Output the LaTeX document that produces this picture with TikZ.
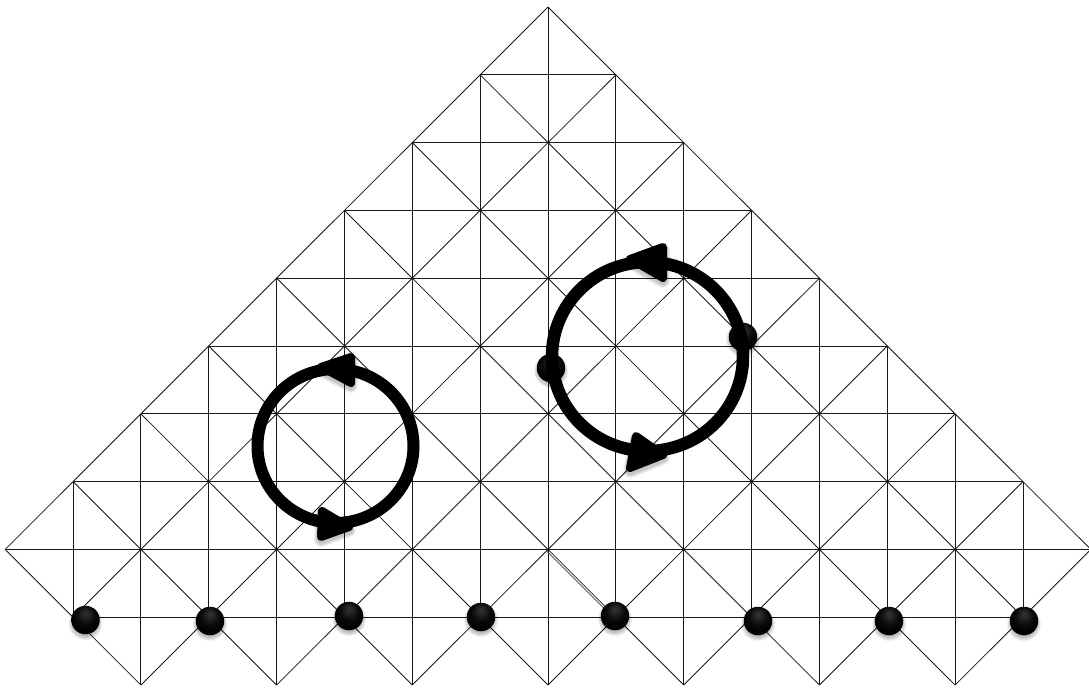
\documentclass[tikz,border=0pt]{standalone}
\usetikzlibrary{calc}
\pgfdeclareradialshading{ballshade}{\pgfpoint{0bp}{13bp}}{color(0bp)=(black!80!white);color(7bp)=(black!86!white);color(16bp)=(black!96!white);color(26bp)=(black);color(50bp)=(black)}
\tikzset{
  lattice/.style={draw=black!90,line width=0.85pt},
  ballnode/.style={circle,minimum size=28.5pt,inner sep=0pt,shade,shading=ballshade},
  ring/.style={draw=black,line width=#1},
  arrowhead/.style={fill=black,draw=black,line width=8pt,line join=round},
  softshadow/.style={fill=black,draw=black,opacity=0.06,line join=round}
}
\begin{document}
\begin{tikzpicture}[x=1pt,y=-1pt]
\useasboundingbox (0,0) rectangle (1089,688);
\fill[white] (0,0) rectangle (1089,688);
\clip (0,0) rectangle (1089,688);
% lattice coordinates
\foreach \n in {0,...,10}{\foreach \m in {-8,...,8}{
  \coordinate (v\m-\n) at ({548+67.85*\m},{7+67.8*\n});
}}
% diagonals
\foreach \n in {0,...,9}{\foreach \m in {-8,...,8}{
  \pgfmathtruncatemacro\mplus{\m+1}
  \pgfmathtruncatemacro\mminus{\m-1}
  \pgfmathtruncatemacro\nnext{\n+1}
  \pgfmathtruncatemacro\parok{mod(abs(\m+\n),2)==0 ? 1 : 0}
  \pgfmathtruncatemacro\hereok{abs(\m)<=min(\n,16-\n) ? \parok : 0}
  \pgfmathtruncatemacro\rightok{abs(\mplus)<=min(\nnext,16-\nnext) ? \hereok : 0}
  \pgfmathtruncatemacro\leftok{abs(\mminus)<=min(\nnext,16-\nnext) ? \hereok : 0}
  \ifnum\rightok=1 \draw[lattice] (v\m-\n) -- (v\mplus-\nnext);\fi
  \ifnum\leftok=1 \draw[lattice] (v\m-\n) -- (v\mminus-\nnext);\fi
}}
% horizontals
\foreach \n in {1,...,9}{
  \pgfmathtruncatemacro\limn{min(\n,16-\n)}
  \draw[lattice] (v-\limn-\n) -- (v\limn-\n);
}
% verticals
\foreach \m/\t/\b in {0/0/10,1/1/9,-1/1/9,2/2/10,-2/2/10,3/3/9,-3/3/9,4/4/10,-4/4/10,5/5/9,-5/5/9,6/6/10,-6/6/10,7/7/9,-7/7/9}{
  \draw[lattice] (v\m-\t) -- (v\m-\b);
}
% doubled diagonal
\draw[black!75,line width=0.6pt] ($(v0-8)+(-1.5,1.5)$) -- ($(v1-9)+(-1.5,1.5)$);
% balls
\foreach \i/\x/\y in {1/85.5/620,2/210/621,3/349/616,4/481/617,5/615/616,6/758/621,7/889/621,8/1024/621,9/551/368,10/743/337}{
  \foreach \r in {12,13,14,15,16,17}{\fill[black,opacity=0.06] (\x,\y+3) circle (\r pt);}
  \node[ballnode] (ball\i) at (\x,\y) {};
}
% arrow shadows
\foreach \w in {8,10,12,14}{
  \path[softshadow,line width=\w pt] (630,262) -- (663,250) -- (663,281) -- cycle;
  \path[softshadow,line width=\w pt] (663,458) -- (636,439) -- (630,471) -- cycle;
  \path[softshadow,line width=\w pt] (321,370) -- (351,360) -- (351,386) -- cycle;
  \path[softshadow,line width=\w pt] (349,530) -- (322,514) -- (321,540) -- cycle;
}
% rings
\draw[ring=12.5pt] (647.5,356.5) ellipse [x radius=95.5pt,y radius=94.5pt];
\draw[ring=12pt] (335.5,446) ellipse [x radius=78pt,y radius=77pt];
% arrowheads
\draw[arrowhead] (630,259) -- (663,247) -- (663,278) -- cycle;
\draw[arrowhead] (663,455) -- (636,436) -- (630,468) -- cycle;
\draw[arrowhead] (321,367) -- (351,357) -- (351,383) -- cycle;
\draw[arrowhead] (349,527) -- (322,511) -- (321,537) -- cycle;
\end{tikzpicture}
\end{document}
